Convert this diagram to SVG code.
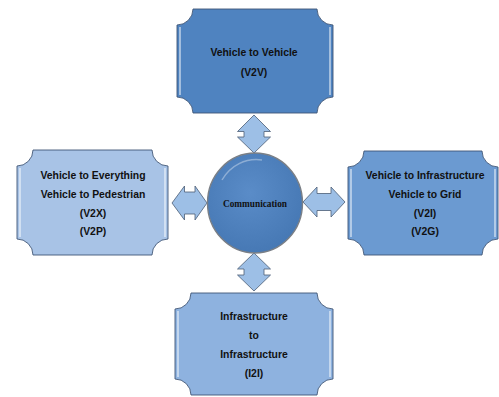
<svg xmlns="http://www.w3.org/2000/svg" width="499" height="397" viewBox="0 0 499 397">
<defs>
<style>
.plaque{stroke:#3f5676;stroke-width:0.9}
.hl{fill:none;stroke:#ffffff;stroke-opacity:0.6;stroke-width:1.6}
.lbl{font-family:"Liberation Sans",Arial,sans-serif;font-weight:bold;font-size:10.4px;fill:#111;text-anchor:middle}
.ctr{font-family:"Liberation Serif","Times New Roman",serif;font-weight:bold;font-size:9.3px;fill:#111;text-anchor:middle}
.arr{fill:#9dbfe6;stroke:#4b5d75;stroke-width:0.8;stroke-linejoin:miter}
</style>
<radialGradient id="cg" cx="0.45" cy="0.4" r="0.65">
<stop offset="0" stop-color="#5a8cc8"/>
<stop offset="1" stop-color="#4577b3"/>
</radialGradient>
</defs>
<rect width="499" height="397" fill="#ffffff"/>
<g id="connectors">
<path class="arr" d="M254,115 L270.5,131.5 L264,131.5 L264,137 L270.5,137 L254,153 L237.5,137 L244,137 L244,131.5 L237.5,131.5 Z"/>
<path class="arr" d="M254,253 L270.5,269 L264,269 L264,275 L270.5,275 L254,291 L237.5,275 L244,275 L244,269 L237.5,269 Z"/>
<path class="arr" d="M172,203 L184.5,186 L184.5,192 L195,192 L195,186 L207,203 L195,220 L195,214 L184.5,214 L184.5,220 Z"/>
<path class="arr" d="M303,202 L317,187 L317,193.5 L331,193.5 L331,187 L345,202 L331,217 L331,210.5 L317,210.5 L317,217 Z"/>
</g>
<g id="node-v2v">
<path class="plaque" fill="#4f83c0" d="M193,9 H317 A16,16 0 0 0 333,25 V97 A16,16 0 0 0 317,113 H193 A16,16 0 0 0 177,97 V25 A16,16 0 0 0 193,9 Z"/>
<path class="hl" d="M180,27 V95 M330,27 V95"/>
<text class="lbl" x="254" y="56">Vehicle to Vehicle</text>
<text class="lbl" x="254" y="76">(V2V)</text>
</g>
<g id="node-v2x">
<path class="plaque" fill="#a8c3e6" d="M33,150 H152 A16,16 0 0 0 168,166 V239 A16,16 0 0 0 152,255 H33 A16,16 0 0 0 17,239 V166 A16,16 0 0 0 33,150 Z"/>
<path class="hl" d="M20,168 V237 M165,168 V237"/>
<text class="lbl" x="93" y="179">Vehicle to Everything</text>
<text class="lbl" x="93" y="198">Vehicle to Pedestrian</text>
<text class="lbl" x="93" y="216.5">(V2X)</text>
<text class="lbl" x="93" y="234.5">(V2P)</text>
</g>
<g id="node-v2i">
<path class="plaque" fill="#6b9ad1" d="M364,151 H482 A16,16 0 0 0 498,167 V239 A16,16 0 0 0 482,255 H364 A16,16 0 0 0 348,239 V167 A16,16 0 0 0 364,151 Z"/>
<path class="hl" d="M351,169 V237 M495,169 V237"/>
<text class="lbl" x="425" y="179">Vehicle to Infrastructure</text>
<text class="lbl" x="425" y="197.5">Vehicle to Grid</text>
<text class="lbl" x="425" y="216.5">(V2I)</text>
<text class="lbl" x="425" y="234.5">(V2G)</text>
</g>
<g id="node-i2i">
<path class="plaque" fill="#8eb2df" d="M191,293 H317 A16,16 0 0 0 333,309 V379 A16,16 0 0 0 317,395 H191 A16,16 0 0 0 175,379 V309 A16,16 0 0 0 191,293 Z"/>
<path class="hl" d="M178,311 V377 M330,311 V377"/>
<text class="lbl" x="254" y="320">Infrastructure</text>
<text class="lbl" x="254" y="339">to</text>
<text class="lbl" x="254" y="358">Infrastructure</text>
<text class="lbl" x="254" y="377">(I2I)</text>
</g>
<g id="node-communication">
<ellipse cx="255" cy="203" rx="47.5" ry="50" fill="url(#cg)" stroke="#7a7f86" stroke-width="1.4"/>
<path d="M222,180 A40,42 0 0 1 262,160" fill="none" stroke="#ffffff" stroke-opacity="0.35" stroke-width="1.5"/>
<text class="ctr" x="255" y="207">Communication</text>
</g>
</svg>
